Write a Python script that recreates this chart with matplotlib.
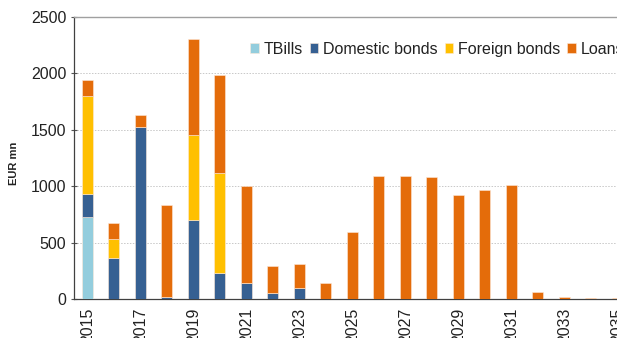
import matplotlib.pyplot as plt
import numpy as np

plt.switch_backend("agg")
plt.rcParams["font.family"] = ["Liberation Sans", "DejaVu Sans"]

years = list(range(2015, 2036))
tbills = [725, 0, 0, 0, 0, 0, 0, 0, 0, 0, 0, 0, 0, 0, 0, 0, 0, 0, 0, 0, 0]
domestic = [210, 361, 1527, 18, 704, 234, 139, 53, 98, 0, 0, 0, 0, 0, 0, 0, 0, 0, 0, 0, 0]
foreign = [867, 169, 0, 0, 749, 887, 0, 0, 0, 0, 0, 0, 0, 0, 0, 0, 0, 0, 0, 0, 0]
loans = [139, 142, 100, 814, 852, 861, 864, 237, 213, 142, 592, 1086, 1086, 1080, 920, 970, 1015, 62, 18, 9, 7]

series = [
    ("TBills", tbills, "#93cddd"),
    ("Domestic bonds", domestic, "#366092"),
    ("Foreign bonds", foreign, "#ffc000"),
    ("Loans", loans, "#e46c0a"),
]

fig = plt.figure(figsize=(6.17, 3.38), dpi=100, facecolor="white")
ax = fig.add_axes([74 / 617, 1 - 299 / 338, 556.5 / 617, 282 / 338])

x = np.array(years)
bottom = np.zeros(len(years))
for name, vals, color in series:
    vals = np.array(vals, dtype=float)
    ax.bar(x, vals, width=0.41, bottom=bottom, color=color, label=name,
           edgecolor="#fde9d9", linewidth=0.4, zorder=3)
    bottom += vals

ax.set_xlim(2014.5, 2035.5)
ax.set_ylim(0, 2500)
ax.set_yticks(range(0, 2501, 500))
ax.set_xticks(years[::2])
ax.set_xticklabels([str(y) for y in years[::2]], rotation=90, fontsize=11.5, color="#222222")
ax.tick_params(axis="x", length=0, pad=6)
ax.tick_params(axis="y", labelsize=11.5, labelcolor="#222222", length=4,
               direction="inout", color="#555555", width=0.8)
ax.yaxis.grid(True, linestyle=(0, (1.5, 1.5)), color="#c8c8c8", linewidth=0.7, zorder=0)

ax.spines["right"].set_visible(False)
ax.spines["top"].set_color("#a0a0a0")
ax.spines["top"].set_linewidth(1.0)
ax.spines["left"].set_color("#404040")
ax.spines["bottom"].set_color("#404040")
ax.spines["left"].set_linewidth(0.9)
ax.spines["bottom"].set_linewidth(0.9)

ax.set_ylabel("EUR mn", fontsize=8, fontweight="bold", color="#222222")
ax.yaxis.set_label_coords(-0.098, 0.48)

leg = ax.legend(loc="upper left", bbox_to_anchor=(0.305, 0.935), ncol=4, frameon=False,
                fontsize=11.5, handlelength=0.55, handleheight=0.55, handletextpad=0.3,
                columnspacing=0.42, borderaxespad=0)
for t in leg.get_texts():
    t.set_color("#222222")

fig.savefig("out.png", dpi=100)
plt.close(fig)
